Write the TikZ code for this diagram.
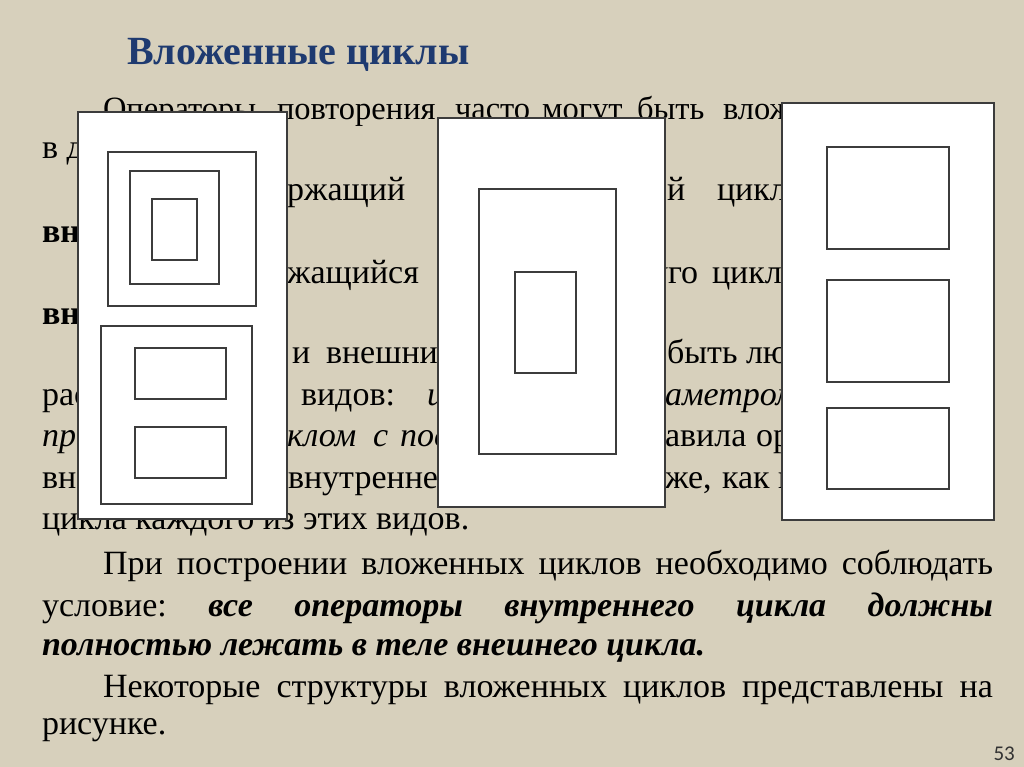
\documentclass[tikz,border=0pt]{standalone}
\usepackage{fontspec}
\setmainfont{Liberation Serif}
\newfontfamily\numfont{Carlito}
\definecolor{bg}{RGB}{215,208,188}
\definecolor{ttl}{RGB}{30,58,112}
\definecolor{edge}{RGB}{60,60,60}
\definecolor{pgnum}{RGB}{50,50,50}
\newcommand{\bodyfont}{\fontsize{34}{40}\selectfont\frenchspacing}
\newcommand{\firstfont}{\fontsize{32.5}{40}\selectfont}
\begin{document}
\begin{tikzpicture}[x=1pt,y=-1pt,
  txt/.style={anchor=base west,inner sep=0pt,outer sep=0pt,font=\bodyfont},
  ftxt/.style={anchor=base west,inner sep=0pt,outer sep=0pt,font=\firstfont},
  box/.style={draw=edge,fill=white,line width=1.3pt}]
\fill[bg] (0,0) rectangle (1024,767);
\useasboundingbox (0,0) rectangle (1024,767);

% title
\node[anchor=base west,inner sep=0pt,font=\fontsize{40}{48}\selectfont\bfseries,text=ttl] (title) at (127,65) {Вложенные циклы};

% body text
\node[ftxt] (l1a) at (103,120) {Операторы};
\node[ftxt] (l1b) at (277,120) {повторения};
\node[ftxt] (l1c) at (455,120) {часто};
\node[ftxt] (l1d) at (542,120) {могут};
\node[ftxt] (l1e) at (637,120) {быть};
\node[ftxt] (l1f) at (723,120) {вложены};
\node[txt] (l2) at (42,159) {в другой.};
\node[txt] (l3a) at (287,201) {\llap{Цикл, соде}ржащий};
\node[txt] (l3b) at (667,201) {\llap{друго}й};
\node[txt] (l3c) at (717,201) {цикл, называется};
\node[txt,font=\bodyfont\bfseries] (l4) at (42,243) {внешним.};
\node[txt] (l5a) at (287,283) {\llap{Цикл, содер}жащийся};
\node[txt] (l5b) at (668,283) {\llap{дру}го};
\node[txt] (l5c) at (712,283) {цикла, называется};
\node[txt,font=\bodyfont\bfseries] (l6) at (42,324) {внутренним.};
\node[txt] (l7a) at (292,363) {и};
\node[txt] (l7b) at (326,363) {внешний};
\node[txt] (l7c) at (667,363) {быть любыми};
\node[txt] (l8a) at (42,405) {рассмотренных};
\node[txt] (l8b) at (301,405) {видов:};
\node[txt,font=\bodyfont\itshape] (l8c) at (427,405) {циклом};
\node[txt,font=\bodyfont\itshape] (l8d) at (665,405) {\llap{пар}аметром,};
\node[txt,font=\bodyfont\itshape] (l9a) at (42,446) {предусловием};
\node[txt,font=\bodyfont\itshape] (l9b) at (287,446) {\llap{ци}клом};
\node[txt,font=\bodyfont\itshape] (l9c) at (373,446) {с};
\node[txt,font=\bodyfont\itshape] (l9d) at (400,446) {постусловием.};
\node[txt] (l9e) at (665,446) {\llap{Пр}авила};
\node[txt] (l9f) at (756,446) {организации};
\node[txt] (l10a) at (42,488) {внешнего};
\node[txt] (l10b) at (288,488) {внутреннего};
\node[txt] (l10c) at (665,488) {\llap{такие }же,};
\node[txt] (l10d) at (722,488) {как};
\node[txt] (l10e) at (778,488) {и для простого};
\node[txt] (l11) at (42,529) {цикла каждого из этих видов.};
\node[txt] (l12) at (103,574) {\makebox[890pt][s]{При построении вложенных циклов необходимо соблюдать}};
\node[txt] (l13) at (42,616) {\makebox[951pt][s]{условие: \textbf{\textit{все операторы внутреннего цикла должны}}}};
\node[txt] (l14) at (42,655) {\textbf{\textit{полностью лежать в теле внешнего цикла.}}};
\node[txt] (l15) at (103,697) {\makebox[890pt][s]{Некоторые структуры вложенных циклов представлены на}};
\node[txt] (l16) at (42,734) {рисунке.};

\node[anchor=base east,inner sep=0pt,font=\numfont\fontsize{21}{25}\selectfont,text=pgnum] (pg) at (1015,760) {53};

% figure A
\draw[box] (78,112) rectangle (287,519);
\draw[box] (108,152) rectangle (256,306);
\draw[box] (130,171) rectangle (219,284);
\draw[box] (152,199) rectangle (197,260);
\draw[box] (101,326) rectangle (252,504);
\draw[box] (135,348) rectangle (226,399);
\draw[box] (135,427) rectangle (226,478);
% figure B
\draw[box] (438,118) rectangle (665,507);
\draw[box] (479,189) rectangle (616,454);
\draw[box] (515,272) rectangle (576,373);
% figure C
\draw[box] (782,103) rectangle (994,520);
\draw[box] (827,147) rectangle (949,249);
\draw[box] (827,280) rectangle (949,382);
\draw[box] (827,408) rectangle (949,489);
\end{tikzpicture}
\end{document}
